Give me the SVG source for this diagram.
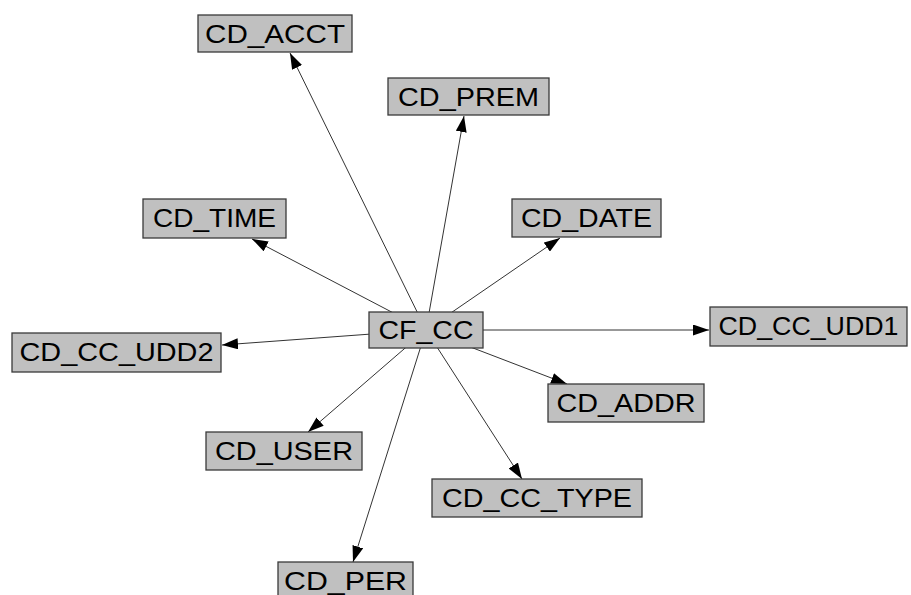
<svg xmlns="http://www.w3.org/2000/svg" width="911" height="595" viewBox="0 0 911 595">
<style>
.box{fill:#c0c0c0;stroke:#3a3a3a;stroke-width:1.3}
.lbl{font-family:"Liberation Sans",Arial,sans-serif;font-size:25px;fill:#000;text-anchor:middle}
.edge{stroke:#333;stroke-width:1;fill:none;marker-end:url(#arr)}
</style>
<defs>
<marker id="arr" viewBox="0 0 16 11" refX="16" refY="5.5" markerWidth="16" markerHeight="11" markerUnits="userSpaceOnUse" orient="auto">
<path d="M0,0 L16,5.5 L0,11 z" fill="#000"/>
</marker>
</defs>
<rect width="911" height="595" fill="#fff"/>
<g id="connectors">
<line class="edge" x1="426" y1="330" x2="290" y2="53"/>
<line class="edge" x1="426" y1="330" x2="464" y2="116"/>
<line class="edge" x1="426" y1="330" x2="252" y2="239"/>
<line class="edge" x1="426" y1="330" x2="560" y2="238"/>
<line class="edge" x1="426" y1="330" x2="222" y2="345"/>
<line class="edge" x1="426" y1="330" x2="709" y2="330"/>
<line class="edge" x1="426" y1="330" x2="567" y2="384"/>
<line class="edge" x1="426" y1="330" x2="308" y2="432"/>
<line class="edge" x1="426" y1="330" x2="522" y2="479"/>
<line class="edge" x1="426" y1="330" x2="353" y2="562"/>
</g>
<g id="CD_ACCT"><rect class="box" x="198" y="15" width="154" height="37"/><text class="lbl" x="275" y="42.5" textLength="140" lengthAdjust="spacingAndGlyphs">CD_ACCT</text></g>
<g id="CD_PREM"><rect class="box" x="388" y="78" width="161" height="37"/><text class="lbl" x="468.5" y="105.5" textLength="141" lengthAdjust="spacingAndGlyphs">CD_PREM</text></g>
<g id="CD_TIME"><rect class="box" x="143" y="199" width="143" height="39"/><text class="lbl" x="214.5" y="227" textLength="123" lengthAdjust="spacingAndGlyphs">CD_TIME</text></g>
<g id="CD_DATE"><rect class="box" x="512" y="199" width="149" height="38"/><text class="lbl" x="586.5" y="226.5" textLength="131" lengthAdjust="spacingAndGlyphs">CD_DATE</text></g>
<g id="CF_CC"><rect class="box" x="369" y="312" width="114" height="36"/><text class="lbl" x="426" y="338.5" textLength="95" lengthAdjust="spacingAndGlyphs">CF_CC</text></g>
<g id="CD_CC_UDD2"><rect class="box" x="12" y="333" width="209" height="39"/><text class="lbl" x="116.5" y="361" textLength="194" lengthAdjust="spacingAndGlyphs">CD_CC_UDD2</text></g>
<g id="CD_CC_UDD1"><rect class="box" x="710" y="307" width="197" height="39"/><text class="lbl" x="808.5" y="335" textLength="180" lengthAdjust="spacingAndGlyphs">CD_CC_UDD1</text></g>
<g id="CD_ADDR"><rect class="box" x="548" y="384" width="156" height="38"/><text class="lbl" x="626" y="411.5" textLength="139" lengthAdjust="spacingAndGlyphs">CD_ADDR</text></g>
<g id="CD_USER"><rect class="box" x="206" y="432" width="156" height="38"/><text class="lbl" x="284" y="459.5" textLength="138" lengthAdjust="spacingAndGlyphs">CD_USER</text></g>
<g id="CD_CC_TYPE"><rect class="box" x="432" y="479" width="210" height="38"/><text class="lbl" x="537" y="506.5" textLength="190" lengthAdjust="spacingAndGlyphs">CD_CC_TYPE</text></g>
<g id="CD_PER"><rect class="box" x="278" y="562" width="135" height="38"/><text class="lbl" x="345.5" y="589.5" textLength="123" lengthAdjust="spacingAndGlyphs">CD_PER</text></g>
</svg>
